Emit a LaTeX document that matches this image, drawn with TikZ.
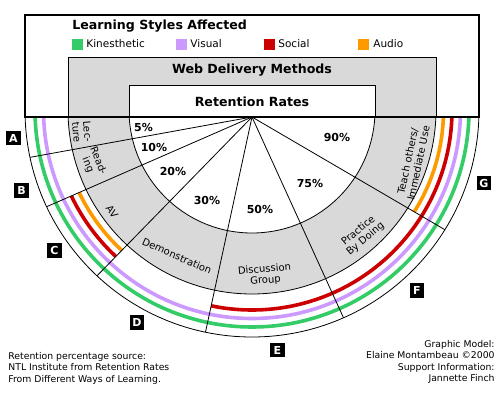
\documentclass[tikz,border=0pt]{standalone}
\usepackage{fontspec}
\setmainfont{DejaVu Sans}
\usetikzlibrary{calc}
\definecolor{kin}{HTML}{33CC66}
\definecolor{vis}{HTML}{CC99FF}
\definecolor{soc}{HTML}{CC0000}
\definecolor{aud}{HTML}{FF9900}
\definecolor{ringgray}{HTML}{D9D9D9}
\tikzset{
  band/.style={line width=3.6pt},
  pct/.style={font=\fontsize{11}{12}\selectfont\bfseries, inner sep=0pt},
  ringlbl/.style={font=\fontsize{10}{11}\selectfont, align=center, inner sep=0pt},
  letterbox/.style={fill=black, text=white, font=\fontsize{11}{11}\selectfont\bfseries, minimum size=14.5pt, inner sep=0pt},
  legsq/.style={inner sep=0pt, minimum size=11pt},
  legtxt/.style={font=\fontsize{10.5}{12}\selectfont, anchor=base west, inner sep=0pt},
  title/.style={font=\fontsize{12.6}{14}\selectfont\bfseries, inner sep=0pt},
  note/.style={font=\fontsize{9.3}{11}\selectfont, inner sep=0pt},
}
\begin{document}
\begin{tikzpicture}[x=1pt,y=1pt,line width=0.8pt]
\useasboundingbox (0,0) rectangle (500,402);
\coordinate (apex) at (252,285);
\coordinate (ctr) at (252,292);
% outer box
\draw[fill=white,line width=1.2pt] (25,285) rectangle (479,387);
% semicircle
\begin{scope}
  \clip (0,0) rectangle (500,285);
  \fill[white] (ctr) circle (227);
  \fill[ringgray] (ctr) circle (184);
  \fill[white] (ctr) circle (123);
  \draw[band,kin] (ctr) circle (217);
  \draw[band,vis] (ctr) circle (208.5);
  \begin{scope}
    \clip (apex) -- ++(203.6:400) arc[start angle=203.6,end angle=225.7,radius=400] -- cycle;
    \draw[band,soc] (ctr) circle (200);
    \draw[band,aud] (ctr) circle (191.5);
  \end{scope}
  \begin{scope}
    \clip (apex) -- ++(257.8:400) arc[start angle=257.8,end angle=362,radius=400] -- cycle;
    \draw[band,soc] (ctr) circle (200);
  \end{scope}
  \begin{scope}
    \clip (apex) -- ++(329.7:400) arc[start angle=329.7,end angle=362,radius=400] -- cycle;
    \draw[band,aud] (ctr) circle (191.5);
  \end{scope}
  \draw (ctr) circle (227);
  \draw (ctr) circle (184);
  \draw (ctr) circle (123);
\end{scope}
% rays
\coordinate (e1) at ($(apex)+(190.3:225.6)$);
\coordinate (e2) at ($(apex)+(203.6:224.1)$);
\coordinate (e3) at ($(apex)+(225.7:221.9)$);
\coordinate (e4) at ($(apex)+(257.8:220.2)$);
\coordinate (e5) at ($(apex)+(294.5:220.6)$);
\coordinate (e6) at ($(apex)+(329.7:223.4)$);
\foreach \e in {e1,e2,e3,e4,e5,e6} \draw (apex) -- (\e);
% upper boxes
\draw[fill=ringgray] (68,285) rectangle (436,345);
\draw[fill=white] (129,285) rectangle (375,317);
\draw[line width=1.2pt] (25,285) -- (479,285);
% titles
\node[title,anchor=base west] (tls) at (72,372) {Learning Styles Affected};
\node[title,anchor=base] (twd) at (252,328) {Web Delivery Methods};
\node[title,anchor=base] (trr) at (252,295) {Retention Rates};
% legend
\node[legsq,fill=kin] (sq1) at (77.5,357.5) {};
\node[legtxt] (l1) at (86,354) {Kinesthetic};
\node[legsq,fill=vis] (sq2) at (181.5,357.5) {};
\node[legtxt] (l2) at (190,354) {Visual};
\node[legsq,fill=soc] (sq3) at (269,357.5) {};
\node[legtxt] (l3) at (278,354) {Social};
\node[legsq,fill=aud] (sq4) at (363.5,357.5) {};
\node[legtxt] (l4) at (373,354) {Audio};
% percentages
\node[pct] (p5) at (143.5,275) {5\%};
\node[pct] (p10) at (154,255) {10\%};
\node[pct] (p20) at (173,231) {20\%};
\node[pct] (p30) at (207,202) {30\%};
\node[pct] (p50) at (260,193) {50\%};
\node[pct] (p75) at (310,219) {75\%};
\node[pct] (p90) at (337,265) {90\%};
% ring labels
\node[ringlbl,rotate=-85] (m1) at (82,270) {Lec-\\ture};
\node[ringlbl,rotate=-68] (m2) at (93,239) {Read-\\ing};
\node[ringlbl,rotate=-55] (m3) at (112,190) {AV};
\node[ringlbl,rotate=-24] (m4) at (177,146) {Demonstration};
\node[ringlbl,rotate=5] (m5) at (265,127) {Discussion\\Group};
\node[ringlbl,rotate=40] (m6) at (362,167) {Practice\\By Doing};
\node[ringlbl,rotate=78] (m7) at (413,240) {Teach others/\\Immediate Use};
% letters
\node[letterbox] (A) at (13.5,264) {A};
\node[letterbox] (B) at (21.5,211.5) {B};
\node[letterbox] (C) at (54.5,151.5) {C};
\node[letterbox] (D) at (137,79.5) {D};
\node[letterbox] (E) at (277.5,52) {E};
\node[letterbox] (F) at (417,111.5) {F};
\node[letterbox] (G) at (484,219) {G};
% notes
\node[note,anchor=base west] (n1) at (8,43) {Retention percentage source:};
\node[note,anchor=base west] (n2) at (8,31.5) {NTL Institute from Retention Rates};
\node[note,anchor=base west] (n3) at (8,20) {From Different Ways of Learning.};
\node[note,anchor=base east] (r1) at (495,55) {Graphic Model:};
\node[note,anchor=base east] (r2) at (495,43.5) {Elaine Montambeau ©2000};
\node[note,anchor=base east] (r3) at (495,32) {Support Information:};
\node[note,anchor=base east] (r4) at (495,20.5) {Jannette Finch};
\end{tikzpicture}
\end{document}
